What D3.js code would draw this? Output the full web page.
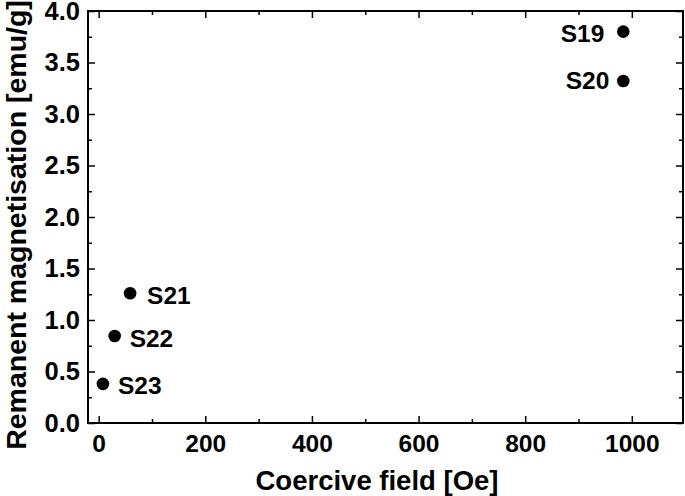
<!DOCTYPE html>
<html>
<head>
<meta charset="utf-8">
<script src="https://cdn.jsdelivr.net/npm/d3@7"></script>
<style>
  html, body { margin: 0; padding: 0; background: #fff; }
  svg { display: block; }
  text { font-family: "Liberation Sans", Arial, Helvetica, sans-serif; font-weight: bold; fill: #000; }
</style>
</head>
<body>
<svg id="chart" width="685" height="496"></svg>
<script>
const sampleNames = ["S19", "S20", "S21", "S22", "S23"];
const coerciveField = [984, 984, 59, 30, 8];
const remanentMag = [3.80, 3.32, 1.26, 0.845, 0.38];
const xTicks = [0, 200, 400, 600, 800, 1000];
const yTicks = [0.0, 0.5, 1.0, 1.5, 2.0, 2.5, 3.0, 3.5, 4.0];
const labelSide = ["left", "left", "right", "right", "right"];

const W = 685, H = 496;
const m = { left: 88, right: 2, top: 11, bottom: 73 };
const svg = d3.select("#chart");

const x = d3.scaleLinear().domain([-20, 1096]).range([m.left, W - m.right]);
const y = d3.scaleLinear().domain([0, 4]).range([H - m.bottom, m.top]);

const x0 = m.left, x1 = W - m.right, y0 = H - m.bottom, y1 = m.top;

const xMinor = d3.range(100, 1100, 200);
const yMinor = d3.range(0.25, 4, 0.5);

const labelDx = [-19, -14, 17, 15, 15];
const labelDy = [10, 8, 11, 11, 10];

const g = svg.append("g");

// bottom axis
const axB = g.append("g").attr("transform", `translate(0,${y0})`)
  .call(d3.axisBottom(x).tickValues(xTicks).tickSize(-7).tickPadding(12).tickFormat(d3.format("d")));
axB.append("g").call(d3.axisBottom(x).tickValues(xMinor).tickSize(-4).tickFormat(""));
// top axis
const axT = g.append("g").attr("transform", `translate(0,${y1})`)
  .call(d3.axisTop(x).tickValues(xTicks).tickSize(-7).tickFormat(""));
axT.append("g").call(d3.axisTop(x).tickValues(xMinor).tickSize(-4).tickFormat(""));
// left axis
const axL = g.append("g").attr("transform", `translate(${x0},0)`)
  .call(d3.axisLeft(y).tickValues(yTicks).tickSize(-7).tickPadding(8).tickFormat(d3.format(".1f")));
axL.append("g").call(d3.axisLeft(y).tickValues(yMinor).tickSize(-4).tickFormat(""));
// right axis
const axR = g.append("g").attr("transform", `translate(${x1},0)`)
  .call(d3.axisRight(y).tickValues(yTicks).tickSize(-7).tickFormat(""));
axR.append("g").call(d3.axisRight(y).tickValues(yMinor).tickSize(-4).tickFormat(""));

g.selectAll(".domain").remove();
g.selectAll(".tick line").attr("stroke", "#000").attr("stroke-width", 1.5);
axB.selectAll(".tick text").style("font-size", "24.5px").attr("fill", "#000");
axL.selectAll(".tick text").style("font-size", "25.5px").attr("fill", "#000");

// frame
svg.append("rect").attr("x", x0).attr("y", y1).attr("width", x1 - x0).attr("height", y0 - y1)
  .attr("fill", "none").attr("stroke", "#000").attr("stroke-width", 2);

// points
const data = sampleNames.map((n, i) => ({ name: n, cx: coerciveField[i], cy: remanentMag[i], side: labelSide[i], dx: labelDx[i], dy: labelDy[i] }));
svg.selectAll("circle.pt").data(data).enter().append("circle")
  .attr("class", "pt")
  .attr("cx", d => x(d.cx)).attr("cy", d => y(d.cy)).attr("r", 6.3).attr("fill", "#000");

svg.selectAll("text.lbl").data(data).enter().append("text")
  .attr("class", "lbl")
  .attr("x", d => x(d.cx) + d.dx)
  .attr("y", d => y(d.cy) + d.dy)
  .attr("text-anchor", d => d.side === "left" ? "end" : "start")
  .style("font-size", "24.5px")
  .text(d => d.name);

// axis titles
svg.append("text").attr("x", 377).attr("y", 490)
  .attr("text-anchor", "middle").style("font-size", "27.5px")
  .text("Coercive field [Oe]");
svg.append("text").attr("transform", `translate(26,225) rotate(-90)`)
  .attr("text-anchor", "middle").style("font-size", "28.5px")
  .text("Remanent magnetisation [emu/g]");
</script>
</body>
</html>
